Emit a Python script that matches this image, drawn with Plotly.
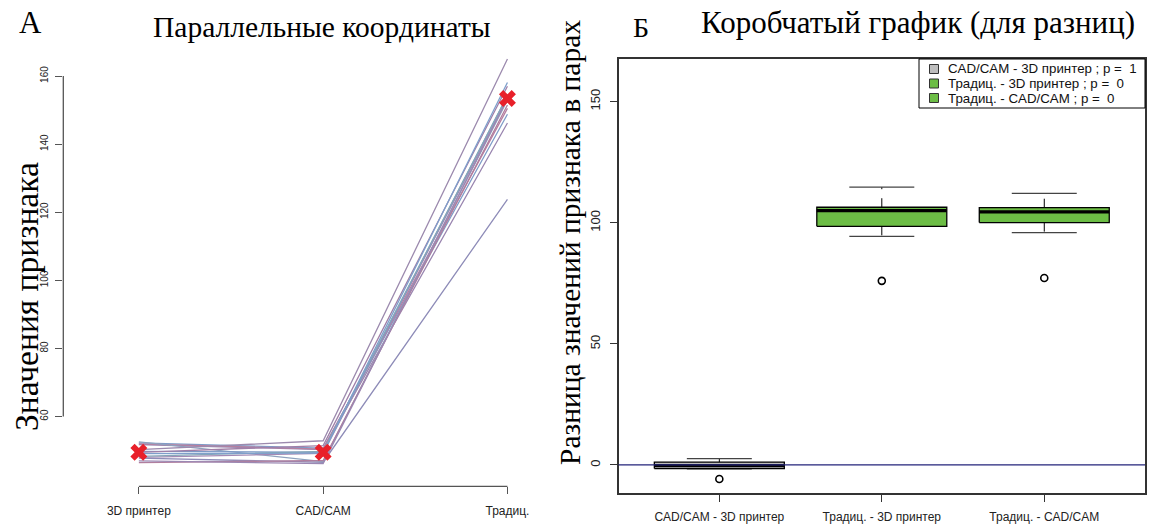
import numpy as np
import plotly.graph_objects as go

# ---------------- data ----------------
groups = ["3D принтер", "CAD/CAM", "Традиц."]
printer3d = [47.8, 51.8, 52.3, 52.0, 52.6, 48.0, 49.8, 46.5, 48.3, 47.0, 49.5, 49.1, 50.3]
cadcam    = [46.6, 50.3, 50.7, 50.45, 46.8, 49.2, 49.5, 47.1, 49.8, 46.2, 51.5, 49.3, 52.9]
trad      = [123.8, 146.2, 148.8, 150.5, 153.0, 153.6, 154.2, 151.5, 154.3, 153.4, 157.0, 158.1, 165.0]
line_colors = ["#8E8CB8", "#9A86B0", "#7F9CC8", "#B67FA0", "#8FA2BE", "#A48AB5",
               "#7C98C6", "#B07E9E", "#86A6B8", "#9B88B3", "#A07FA8", "#7E9FCB", "#9C8AAE"]

diff_labels = ["CAD/CAM - 3D принтер", "Традиц. - 3D принтер", "Традиц. - CAD/CAM"]
p_values = [1, 0, 0]
box_colors = ["#BEBEBE", "#6CBD45", "#6CBD45"]
y_ticks_left = [60, 80, 100, 120, 140, 160]
y_ticks_right = [0, 50, 100, 150]

W, H = 1149, 524

p3 = np.array(printer3d); cc = np.array(cadcam); tr = np.array(trad)
diffs = [cc - p3, tr - p3, tr - cc]
group_pos = list(range(1, len(groups) + 1))
diff_pos = list(range(1, len(diff_labels) + 1))


def tukey_stats(v):
    v = np.sort(np.asarray(v, dtype=float))
    n = len(v)
    med = np.median(v)
    lower = v[:(n + 1) // 2]
    upper = v[n // 2:]
    q1, q3 = np.median(lower), np.median(upper)
    iqr = q3 - q1
    lo_f, hi_f = q1 - 1.5 * iqr, q3 + 1.5 * iqr
    inside = v[(v >= lo_f) & (v <= hi_f)]
    out = v[(v < lo_f) | (v > hi_f)]
    return q1, med, q3, inside.min(), inside.max(), out


fig = go.Figure()

# ---------------- left: parallel coordinates ----------------
for i in range(len(p3)):
    fig.add_trace(go.Scatter(
        x=group_pos, y=[p3[i], cc[i], tr[i]], mode="lines",
        line=dict(color=line_colors[i % len(line_colors)], width=1.3),
        xaxis="x", yaxis="y", showlegend=False, hoverinfo="skip"))

centers = [np.median(p3), np.median(cc), np.median(tr)]
fig.add_trace(go.Scatter(
    x=group_pos, y=centers, mode="markers",
    marker=dict(symbol="x", size=15, color="#E8202A", line=dict(width=0)),
    xaxis="x", yaxis="y", showlegend=False))

# ---------------- right: box plots of differences ----------------
bw = 0.8
for k, d in enumerate(diffs):
    pos = diff_pos[k]
    q1, med, q3, lo, hi, out = tukey_stats(d)
    for a, b in ((q3, hi), (q1, lo)):
        fig.add_trace(go.Scatter(x=[pos, pos], y=[a, b], mode="lines",
                                 line=dict(color="black", width=1, dash="dash"),
                                 xaxis="x2", yaxis="y2", showlegend=False, hoverinfo="skip"))
    for c in (hi, lo):
        fig.add_trace(go.Scatter(x=[pos - bw / 4, pos + bw / 4], y=[c, c], mode="lines",
                                 line=dict(color="#444", width=1.2),
                                 xaxis="x2", yaxis="y2", showlegend=False, hoverinfo="skip"))
    fig.add_trace(go.Scatter(
        x=[pos - bw / 2, pos + bw / 2, pos + bw / 2, pos - bw / 2, pos - bw / 2],
        y=[q1, q1, q3, q3, q1], mode="lines", fill="toself", fillcolor=box_colors[k],
        line=dict(color="black", width=1.3),
        xaxis="x2", yaxis="y2", showlegend=False, hoverinfo="skip"))
    fig.add_trace(go.Scatter(x=[pos - bw / 2, pos + bw / 2], y=[med, med], mode="lines",
                             line=dict(color="black", width=3.2),
                             xaxis="x2", yaxis="y2", showlegend=False, hoverinfo="skip"))
    if len(out):
        fig.add_trace(go.Scatter(x=[pos] * len(out), y=out, mode="markers",
                                 marker=dict(symbol="circle-open", size=7, color="black",
                                             line=dict(width=1.6)),
                                 xaxis="x2", yaxis="y2", showlegend=False))

# ---------------- layout ----------------
LX0, LX1 = 63.3 / W, 583 / W
LY0, LY1 = (H - 486.4) / H, (H - 42) / H
R_TOP = 59.0
RX0, RX1 = 618.6 / W, 1145 / W
RY0, RY1 = (H - 493.3) / H, (H - R_TOP) / H
r_ymax = 150 + (101.7 - R_TOP) / 2.427

sans = "Liberation Sans, Arial, sans-serif"
serif = "Liberation Serif, Times New Roman, serif"
tickfont_s = dict(family=sans, size=10, color="#222")
tickfont_m = dict(family=sans, size=12, color="#222")
tickfont_r = dict(family=sans, size=13, color="#222")


def px(x):
    return x / W


def py(y):
    return (H - y) / H


shapes = [
    dict(type="line", xref="paper", yref="y", x0=LX0, x1=LX0,
         y0=y_ticks_left[0], y1=y_ticks_left[-1], line=dict(color="#555", width=1.3)),
    dict(type="line", xref="x", yref="paper", x0=group_pos[0], x1=group_pos[-1],
         y0=LY0, y1=LY0, line=dict(color="#555", width=1.3)),
    dict(type="line", xref="x2 domain", yref="y2", x0=0, x1=1, y0=0, y1=0,
         line=dict(color="#23237A", width=1.3)),
]

annotations = [
    dict(text="А", x=px(30), y=py(23), font=dict(family=serif, size=31, color="black")),
    dict(text="Параллельные координаты", x=px(322), y=py(27),
         font=dict(family=serif, size=29.5, color="black")),
    dict(text="Б", x=px(641), y=py(28), font=dict(family=serif, size=28, color="black")),
    dict(text="Коробчатый график (для разниц)", x=px(918), y=py(23),
         font=dict(family=serif, size=31, color="black")),
    dict(text="Значения признака", x=px(27), y=py(297), textangle=-90,
         font=dict(family=serif, size=33.5, color="black")),
    dict(text="Разница значений признака в парах", x=px(570), y=py(243), textangle=-90,
         font=dict(family=serif, size=29.5, color="black")),
]

# manual legend (R-style, top-right inside the plot box)
leg_left, leg_right = 919, 1145
leg_top = R_TOP
row_h = 14.5
shapes.append(dict(type="rect", xref="paper", yref="paper",
                   x0=px(leg_left), x1=px(leg_right), y0=py(leg_top + 10 + row_h * 2 + 10),
                   y1=py(leg_top), line=dict(color="black", width=1), fillcolor="white"))
for k, lab in enumerate(diff_labels):
    cy = leg_top + 10 + row_h * k
    shapes.append(dict(type="rect", xref="paper", yref="paper",
                       x0=px(929.5), x1=px(938.5), y0=py(cy + 4.5), y1=py(cy - 4.5),
                       line=dict(color="#333", width=1), fillcolor=box_colors[k]))
    annotations.append(dict(text=f"{lab} ; p =  {p_values[k]}", x=px(946), y=py(cy),
                            xanchor="left", font=dict(family=sans, size=13.3, color="#111")))

for a in annotations:
    a.setdefault("xref", "paper")
    a.setdefault("yref", "paper")
    a.setdefault("xanchor", "center")
    a.setdefault("yanchor", "middle")
    a["showarrow"] = False

fig.update_layout(
    width=W, height=H, margin=dict(l=0, r=0, t=0, b=0),
    paper_bgcolor="white", plot_bgcolor="white", showlegend=False,
    xaxis=dict(domain=[LX0, LX1], range=[0.59, 3.41], anchor="y",
               tickmode="array", tickvals=group_pos, ticktext=groups,
               ticks="outside", ticklen=7, tickcolor="#555", tickwidth=1, ticklabelstandoff=6,
               showline=False, showgrid=False, zeroline=False, tickfont=tickfont_m),
    yaxis=dict(domain=[LY0, LY1], range=[39.5, 170], anchor="x",
               tickmode="array", tickvals=y_ticks_left, tickangle=-90,
               ticks="outside", ticklen=7, tickcolor="#555", tickwidth=1, ticklabelstandoff=3,
               showline=False, showgrid=False, zeroline=False, tickfont=tickfont_s),
    xaxis2=dict(domain=[RX0, RX1], range=[0.38, 3.62], anchor="y2",
                tickmode="array", tickvals=diff_pos, ticktext=diff_labels,
                ticks="outside", ticklen=7, tickcolor="#333", tickwidth=1, ticklabelstandoff=5,
                showline=True, mirror=True, linecolor="#333", linewidth=1.5,
                showgrid=False, zeroline=False, tickfont=tickfont_m),
    yaxis2=dict(domain=[RY0, RY1], range=[-11.7, r_ymax], anchor="x2",
                tickmode="array", tickvals=y_ticks_right, tickangle=-90,
                ticks="outside", ticklen=7, tickcolor="#333", tickwidth=1, ticklabelstandoff=5,
                showline=True, mirror=True, linecolor="#333", linewidth=1.5,
                showgrid=False, zeroline=False, tickfont=tickfont_r),
    shapes=shapes,
    annotations=annotations,
)

fig.write_html("out.html", config={"displayModeBar": False},
               post_script="document.body.style.margin='0';document.body.style.overflow='hidden';")
